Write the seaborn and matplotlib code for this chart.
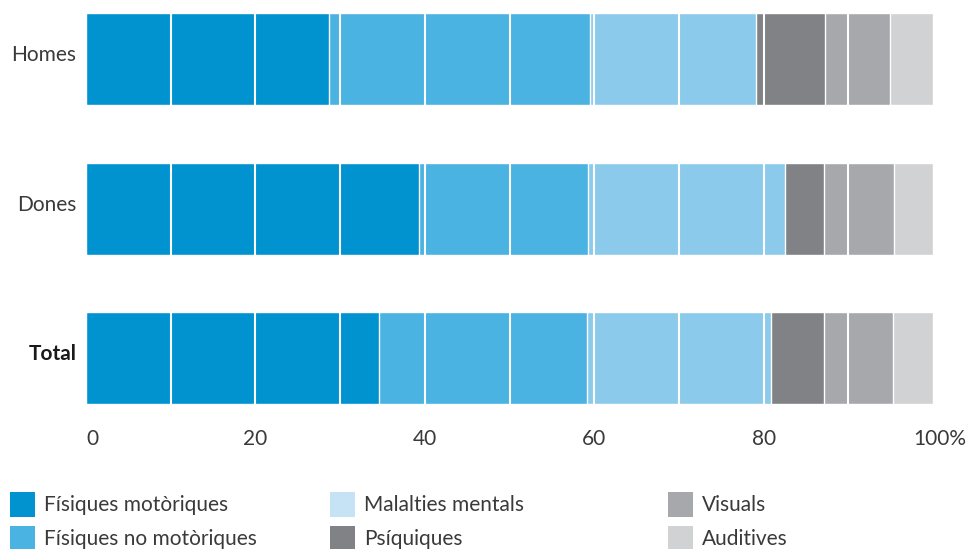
import matplotlib
matplotlib.use("Agg")
import matplotlib.pyplot as plt
import matplotlib.transforms as mtransforms
from matplotlib.patches import Patch
import seaborn as sns
import pandas as pd
import numpy as np

grups = ["Homes", "Dones", "Total"]
categories = ["Físiques motòriques", "Físiques no motòriques", "Malalties mentals",
              "Psíquiques", "Visuals", "Auditives"]
motoriques = [28.7, 39.3, 34.6]
no_motoriques = [30.8, 20.0, 24.6]
malalties_mentals = [19.6, 23.2, 21.7]
psiquiques = [8.1, 4.6, 6.2]
visuals = [7.7, 8.3, 8.2]
auditives = [5.1, 4.6, 4.7]

colors = ["#0093d0", "#4ab3e2", "#8bcaeb", "#808285", "#a7a8ac", "#d1d2d4"]
legend_colors = ["#0093d0", "#4ab3e2", "#c5e3f5", "#808285", "#a7a8ac", "#d1d2d4"]
text_color = "#3a3a3a"
fs = 15

sns.set_theme(style="white")
plt.rcParams["font.family"] = ["Lato", "DejaVu Sans"]

df = pd.DataFrame({"grup": grups})
series = [motoriques, no_motoriques, malalties_mentals, psiquiques, visuals, auditives]
cum = np.cumsum(np.array(series), axis=0)
for i, cat in enumerate(categories):
    df[cat] = cum[i]

fig = plt.figure(figsize=(9.69, 5.49), dpi=100)
ax = fig.add_axes([86 / 969, 1 - 418 / 549, (933 - 86) / 969, 418 / 549])

# draw cumulative totals from the longest to the shortest so they stack
for i in reversed(range(len(categories))):
    sns.barplot(data=df, x=categories[i], y="grup", order=grups, orient="h",
                color=colors[i], saturation=1, width=0.615, errorbar=None, ax=ax)

ax.set_xlim(0, 100)
ax.set_ylim(2.401, -0.395)
ax.set_xlabel("")
ax.set_ylabel("")
sns.despine(ax=ax, left=True, bottom=True)

# white separators every 10 points, on top of the bars
for xv in range(10, 100, 10):
    ax.axvline(xv, color="white", linewidth=1.5, zorder=5)

ax.set_xticks(range(0, 101, 20))
ax.set_xticklabels(["0", "20", "40", "60", "80", "100%"])
ax.tick_params(axis="x", length=0, pad=8, labelsize=fs, labelcolor=text_color)
ax.tick_params(axis="y", length=0, pad=7, labelsize=fs, labelcolor=text_color)

xlabels = ax.get_xticklabels()
xlabels[0].set_horizontalalignment("left")
xlabels[-1].set_transform(xlabels[-1].get_transform() +
                          mtransforms.ScaledTranslation(7 / 100, 0, fig.dpi_scale_trans))
for t in ax.get_yticklabels():
    t.set_transform(t.get_transform() +
                    mtransforms.ScaledTranslation(0, 6 / 100, fig.dpi_scale_trans))
ax.get_yticklabels()[2].set_fontweight("bold")
ax.get_yticklabels()[2].set_color("#1a1a1a")

col_x = [10 / 969, 330 / 969, 668 / 969]
for c in range(3):
    handles = [Patch(facecolor=legend_colors[2 * c + k], edgecolor="none", label=categories[2 * c + k])
               for k in range(2)]
    leg = fig.legend(handles=handles, loc="upper left", bbox_to_anchor=(col_x[c], 1 - 492 / 549),
                     frameon=False, fontsize=fs, handlelength=1.2, handleheight=1.45,
                     handletextpad=0.45, labelspacing=0.45, borderpad=0, borderaxespad=0)
    for t in leg.get_texts():
        t.set_color(text_color)

fig.savefig("out.png", dpi=100)
